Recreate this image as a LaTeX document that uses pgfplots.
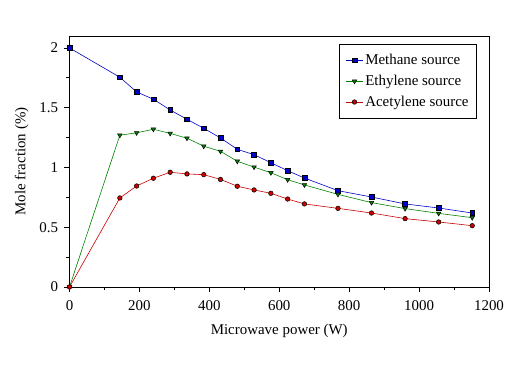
\documentclass[border=0pt]{standalone}
\usepackage{pgfplots}
\pgfplotsset{compat=1.18}
\usepackage{fontspec}
\setmainfont{Liberation Serif}
\definecolor{cblue}{RGB}{0,0,200}
\definecolor{cgreen}{RGB}{0,128,0}
\definecolor{cred}{RGB}{200,0,0}
\begin{document}
\begin{tikzpicture}[x=1bp,y=1bp]
\path[use as bounding box] (-69.5bp,-81bp) rectangle (446.5bp,287bp);
\begin{axis}[
  at={(0,0)}, anchor=south west,
  scale only axis, width=419.5bp, height=251bp,
  xmin=0, xmax=1200, ymin=0, ymax=2.1,
  xtick={0,200,...,1200}, ytick={0,0.5,1,1.5,2},
  minor xtick={100,300,...,1100}, minor ytick={0.25,0.75,1.25,1.75},
  tick pos=left, tick align=outside,
  major tick length=5bp, minor tick length=3bp,
  every tick/.style={black, line width=0.8pt},
  axis line style={line width=0.9pt},
  /pgf/number format/assume math mode=true,
  /pgf/number format/1000 sep={},
  ticklabel style={font=\fontsize{15}{17}\selectfont},
  xticklabel style={yshift=-5bp},
  yticklabel style={xshift=-3bp},
  label style={font=\fontsize{15}{17}\selectfont},
  xlabel={Microwave power (W)}, ylabel={Mole fraction (\%)},
  xlabel style={yshift=-7bp},
  ylabel style={yshift=4bp},
  legend style={at={(1,1)}, anchor=north east, xshift=-12bp, yshift=-8bp,
    font=\fontsize{15}{17}\selectfont, draw=black, line width=0.8pt,
    inner xsep=6bp, inner ysep=8bp, row sep=5bp},
  legend cell align=left,
  legend image code/.code={\draw[#1] (0cm,0cm) -- (0.6cm,0cm); \draw[#1, only marks] plot coordinates {(0.3cm,0cm)};},
]
\addplot[cblue, line width=0.6pt, mark=square*, mark size=2.4bp, mark options={fill=cblue, draw=black, line width=0.5pt}] coordinates {
(0,2.0) (144,1.755) (192,1.632) (240,1.571) (288,1.481) (336,1.403) (384,1.328) (432,1.247) (480,1.152) (528,1.107) (576,1.04) (624,0.973) (672,0.912) (768,0.806) (864,0.753) (960,0.695) (1056,0.661) (1152,0.619)};
\addlegendentry{Methane source}
\addplot[cgreen, line width=0.6pt, mark=triangle*, mark size=2.6bp, mark options={rotate=180, fill=cgreen, draw=black, line width=0.5pt}] coordinates {
(0,0) (144,1.27) (192,1.29) (240,1.32) (288,1.285) (336,1.245) (384,1.178) (432,1.135) (480,1.052) (528,1.003) (576,0.956) (624,0.898) (672,0.854) (768,0.775) (864,0.706) (960,0.656) (1056,0.616) (1152,0.58)};
\addlegendentry{Ethylene source}
\addplot[cred, line width=0.6pt, mark=*, mark size=2.3bp, mark options={fill=cred, draw=black, line width=0.5pt}] coordinates {
(0,0) (144,0.745) (192,0.845) (240,0.91) (288,0.96) (336,0.946) (384,0.94) (432,0.90) (480,0.843) (528,0.812) (576,0.784) (624,0.736) (672,0.695) (768,0.658) (864,0.619) (960,0.572) (1056,0.544) (1152,0.513)};
\addlegendentry{Acetylene source}
\end{axis}
\end{tikzpicture}
\end{document}
